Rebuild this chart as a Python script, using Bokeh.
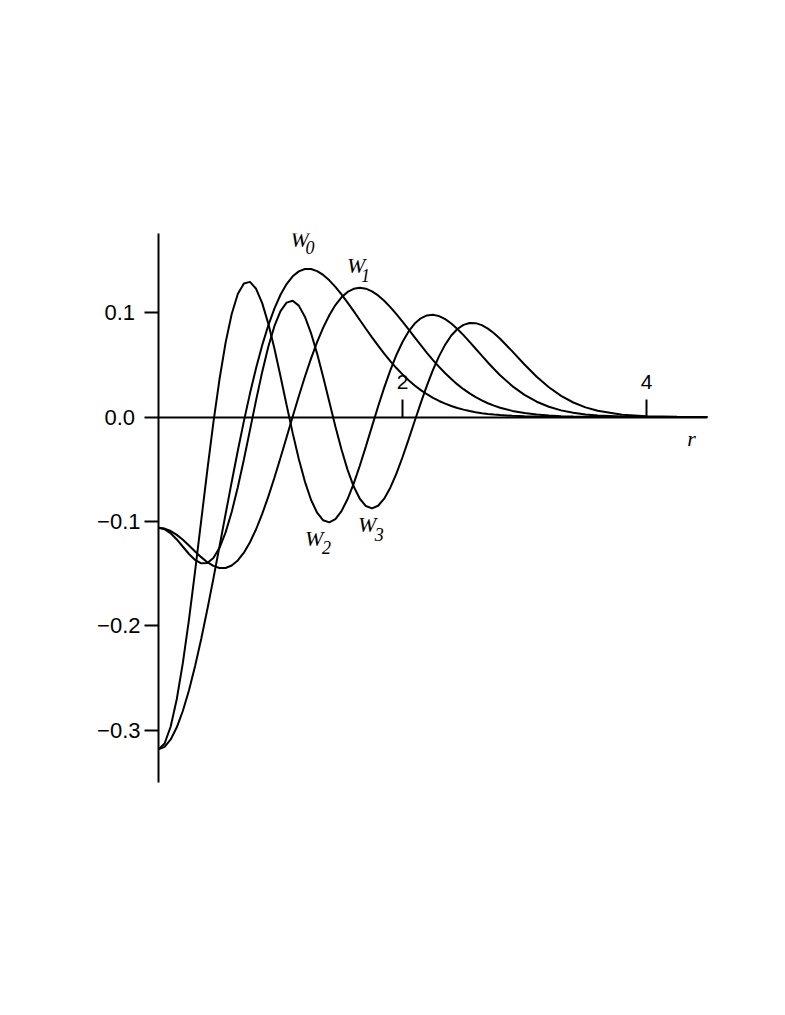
from bokeh.plotting import figure
from bokeh.models import Range1d, FixedTicker, CustomJSTickFormatter
from bokeh.embed import file_html
from bokeh.resources import INLINE
from bokeh.core.properties import value

# sample positions (r) shared by all curves
r = [0.00, 0.05, 0.10, 0.15, 0.20, 0.25, 0.30, 0.35, 0.40, 0.45,
     0.50, 0.55, 0.60, 0.65, 0.70, 0.75, 0.80, 0.85, 0.90, 0.95,
     1.00, 1.05, 1.10, 1.15, 1.20, 1.25, 1.30, 1.35, 1.40, 1.45,
     1.50, 1.55, 1.60, 1.65, 1.70, 1.75, 1.80, 1.85, 1.90, 1.95,
     2.00, 2.05, 2.10, 2.15, 2.20, 2.25, 2.30, 2.35, 2.40, 2.45,
     2.50, 2.55, 2.60, 2.65, 2.70, 2.75, 2.80,
     2.90, 3.00, 3.10, 3.20, 3.30, 3.40, 3.50, 3.60,
     3.80, 4.00, 4.25, 4.50]

w0 = [-0.31831, -0.31593, -0.30884, -0.29722, -0.28136, -0.26165, -0.23855, -0.21262, -0.18445, -0.15468,
      -0.12395, -0.09291, -0.06218, -0.03234, -0.00390, 0.02267, 0.04700, 0.06878, 0.08779, 0.10392,
      0.11710, 0.12736, 0.13479, 0.13953, 0.14178, 0.14178, 0.13979, 0.13608, 0.13092, 0.12462,
      0.11743, 0.10960, 0.10138, 0.09298, 0.08456, 0.07630, 0.06831, 0.06071, 0.05356, 0.04692,
      0.04081, 0.03526, 0.03026, 0.02579, 0.02185, 0.01839, 0.01538, 0.01278, 0.01055, 0.00866,
      0.00707, 0.00573, 0.00462, 0.00370, 0.00295, 0.00234, 0.00184,
      0.00112, 0.00067, 0.00039, 0.00022, 0.00012, 0.00007, 0.00004, 0.00002,
      0.0, 0.0, 0.0, 0.0]

w1 = [-0.10610, -0.10689, -0.10921, -0.11287, -0.11760, -0.12304, -0.12874, -0.13423, -0.13902, -0.14263,
      -0.14461, -0.14458, -0.14225, -0.13741, -0.12998, -0.11997, -0.10751, -0.09283, -0.07626, -0.05818,
      -0.03903, -0.01931, 0.00052, 0.01996, 0.03857, 0.05595, 0.07174, 0.08568, 0.09754, 0.10721,
      0.11463, 0.11981, 0.12283, 0.12382, 0.12294, 0.12042, 0.11648, 0.11136, 0.10531, 0.09856,
      0.09134, 0.08387, 0.07629, 0.06880, 0.06153, 0.05458, 0.04803, 0.04193, 0.03634, 0.03125,
      0.02668, 0.02261, 0.01903, 0.01591, 0.01321, 0.01089, 0.00892,
      0.00587, 0.00376, 0.00235, 0.00143, 0.00085, 0.00049, 0.00028, 0.00016,
      0.00004, 0.00001, 0.0, 0.0]

w2 = [-0.31831, -0.31276, -0.29642, -0.27015, -0.23534, -0.19380, -0.14768, -0.09929, -0.05103, -0.00519,
      0.03615, 0.07124, 0.09874, 0.11777, 0.12798, 0.12947, 0.12285, 0.10909, 0.08949, 0.06559,
      0.03903, 0.01150, -0.01543, -0.04029, -0.06186, -0.07921, -0.09168, -0.09892, -0.10089, -0.09782,
      -0.09017, -0.07856, -0.06378, -0.04668, -0.02811, -0.00895, 0.01002, 0.02811, 0.04474, 0.05944,
      0.07190, 0.08195, 0.08948, 0.09454, 0.09731, 0.09791, 0.09664, 0.09376, 0.08958, 0.08437,
      0.07844, 0.07204, 0.06541, 0.05875, 0.05222, 0.04596, 0.04007,
      0.02964, 0.02117, 0.01464, 0.00981, 0.00638, 0.00403, 0.00247, 0.00148,
      0.00049, 0.00014, 0.00003, 0.0]

w3 = [-0.10610, -0.10747, -0.11139, -0.11729, -0.12427, -0.13123, -0.13694, -0.14017, -0.13982, -0.13505,
      -0.12532, -0.11053, -0.09095, -0.06729, -0.04063, -0.01229, 0.01618, 0.04322, 0.06729, 0.08704,
      0.10139, 0.10960, 0.11135, 0.10671, 0.09613, 0.08045, 0.06075, 0.03835, 0.01463, -0.00897,
      -0.03113, -0.05066, -0.06662, -0.07830, -0.08529, -0.08748, -0.08499, -0.07822, -0.06773, -0.05423,
      -0.03853, -0.02147, -0.00385, 0.01355, 0.03007, 0.04514, 0.05833, 0.06935, 0.07804, 0.08433,
      0.08831, 0.09010, 0.08993, 0.08804, 0.08472, 0.08026, 0.07497,
      0.06290, 0.05035, 0.03862, 0.02849, 0.02026, 0.01391, 0.00924, 0.00595,
      0.00225, 0.00076, 0.00017, 0.00003]

y_ticks = [-0.3, -0.2, -0.1, 0.0, 0.1]
x_ticks = [2, 4]

# curve labels: main letter and subscript
lab_text = ["W", "W", "W", "W"]
lab_sub = ["0", "1", "2", "3"]
lab_x = [1.082, 1.546, 1.200, 1.636]
lab_y = [0.1703, 0.1449, -0.1163, -0.1026]
sub_x = [1.205, 1.659, 1.341, 1.773]
sub_y = [0.1624, 0.1353, -0.1250, -0.1122]

p = figure(width=785, height=1015,
           x_range=Range1d(0, 4.5), y_range=Range1d(-0.3501, 0.1758),
           output_backend="svg", toolbar_location=None,
           x_axis_location="above",
           min_border_left=158, min_border_right=78,
           min_border_top=233, min_border_bottom=233)
p.outline_line_color = None
p.grid.visible = False
p.background_fill_color = "white"
p.border_fill_color = "white"

# y axis at r = 0 (frame left edge); labels roughly centred like the original
ya = p.yaxis[0]
ya.ticker = FixedTicker(ticks=y_ticks)
ya.formatter = CustomJSTickFormatter(
    code="return tick < -1e-9 ? '\u2212' + Math.abs(tick).toFixed(1) : Math.abs(tick).toFixed(1) + '\u2005';")
ya.major_tick_out = 14
ya.major_tick_in = 0
ya.minor_tick_out = 0
ya.minor_tick_in = 0
ya.major_label_standoff = 4
ya.axis_line_width = 2
ya.major_tick_line_width = 2
ya.major_label_text_font = "Liberation Sans"
ya.major_label_text_font_size = "22px"
ya.major_label_text_color = "black"

# x axis through v = 0
xa = p.xaxis[0]
xa.fixed_location = 0
xa.ticker = FixedTicker(ticks=x_ticks)
xa.major_tick_out = 18
xa.major_tick_in = 0
xa.minor_tick_out = 0
xa.minor_tick_in = 0
xa.major_label_standoff = 10
xa.axis_line_width = 2
xa.major_tick_line_width = 2
xa.major_label_text_font = "Liberation Sans"
xa.major_label_text_font_size = "21px"
xa.major_label_text_color = "black"

for ys in (w0, w1, w2, w3):
    p.line(r, ys, line_color="black", line_width=2)

p.text(x=lab_x, y=lab_y, text=lab_text, text_font=value("Liberation Serif"),
       text_font_style="italic", text_font_size="22px", text_align="left",
       text_baseline="alphabetic", text_color="black")
p.text(x=sub_x, y=sub_y, text=lab_sub, text_font=value("Liberation Serif"),
       text_font_style="italic", text_font_size="18px", text_align="left",
       text_baseline="alphabetic", text_color="black")
p.text(x=[4.335], y=[-0.0206], text=["r"], text_font=value("Liberation Serif"),
       text_font_style="italic", text_font_size="22px", text_align="left",
       text_baseline="alphabetic", text_color="black")

open("out.html", "w").write(file_html(p, INLINE))
